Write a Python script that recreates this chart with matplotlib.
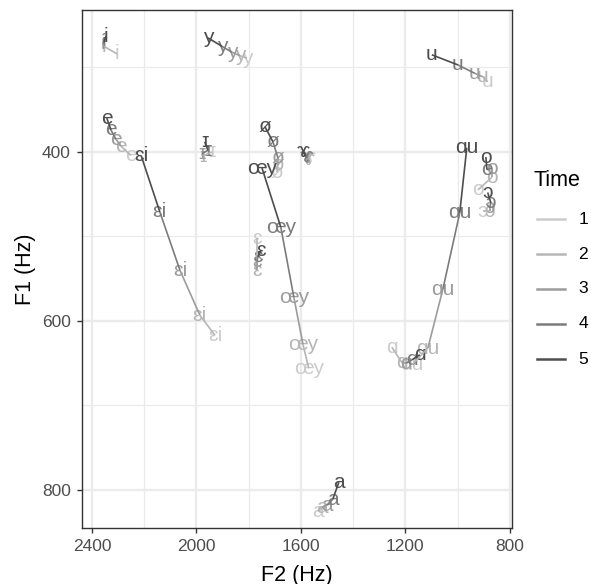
import matplotlib
matplotlib.use("Agg")
import matplotlib.pyplot as plt
from matplotlib.lines import Line2D
from matplotlib.ticker import FixedLocator

plt.rcParams['font.family'] = ['Liberation Sans', 'DejaVu Sans']

# vowel labels and formant tracks, one row per vowel, columns = time 1..5
vowels = ["i", "y", "e", "ɛi", "ɪ", "ø", "œy", "ɤ", "ɛ", "u", "ɑu", "ɑ", "o", "ɔ", "a"]
f2_hz = [
    [2304, 2354, 2358, 2354, 2346],
    [1807, 1834, 1864, 1902, 1956],
    [2251, 2289, 2308, 2327, 2343],
    [1929, 1987, 2063, 2140, 2212],
    [1941, 1975, 1979, 1956, 1968],
    [1692, 1688, 1688, 1707, 1738],
    [1570, 1592, 1627, 1677, 1749],
    [1570, 1573, 1577, 1581, 1592],
    [1769, 1769, 1769, 1765, 1753],
    [885, 904, 934, 999, 1099],
    [1175, 1114, 1057, 992, 965],
    [1252, 1214, 1198, 1175, 1145],
    [923, 869, 869, 888, 892],
    [904, 877, 877, 873, 885],
    [1535, 1520, 1501, 1478, 1455],
]
f1_hz = [
    [284, 275, 272, 270, 263],
    [289, 286, 282, 275, 265],
    [404, 393, 385, 374, 360],
    [617, 593, 540, 471, 404],
    [400, 405, 402, 398, 388],
    [424, 415, 407, 388, 370],
    [656, 628, 572, 489, 419],
    [407, 409, 407, 405, 400],
    [502, 540, 530, 524, 517],
    [317, 311, 307, 297, 285],
    [652, 632, 563, 472, 395],
    [631, 649, 650, 646, 640],
    [445, 430, 419, 421, 406],
    [470, 470, 466, 460, 448],
    [825, 821, 818, 811, 791],
]
times = ["1", "2", "3", "4", "5"]

# grey scale, light (time 1) to dark (time 5)
greys = ["#CCCCCC", "#B6B6B6", "#9C9C9C", "#7C7C7C", "#4D4D4D"]

W, H = 591, 584
fig = plt.figure(figsize=(W / 100, H / 100), dpi=100)
ax = fig.add_axes([82 / W, 1 - 528 / H, 430 / W, 518 / H])

# labels first, time 1 underneath
for t in range(len(times)):
    for v, lab in enumerate(vowels):
        ax.text(f2_hz[v][t], f1_hz[v][t], lab, color=greys[t], fontsize=15,
                ha='center', va='center', zorder=3)

# path segments coloured by the later time point
for v in range(len(vowels)):
    for t in range(len(times) - 1):
        ax.plot(f2_hz[v][t:t + 2], f1_hz[v][t:t + 2], color=greys[t + 1],
                lw=1.2, zorder=4, solid_capstyle='butt')

ax.set_xlim(2438, 792)
ax.set_ylim(845, 232)
ax.xaxis.set_major_locator(FixedLocator([2400, 2000, 1600, 1200, 800]))
ax.xaxis.set_minor_locator(FixedLocator([2200, 1800, 1400, 1000]))
ax.yaxis.set_major_locator(FixedLocator([400, 600, 800]))
ax.yaxis.set_minor_locator(FixedLocator([300, 500, 700]))
ax.grid(which='major', color='#EBEBEB', lw=1.7, zorder=0)
ax.grid(which='minor', color='#EBEBEB', lw=0.9, zorder=0)
ax.set_axisbelow(True)
ax.tick_params(which='major', length=3.5, width=1.0, color='#333333',
               labelcolor='#4D4D4D', labelsize=12.5, pad=4.5)
ax.tick_params(which='minor', length=0)
for s in ax.spines.values():
    s.set_color('#333333')
    s.set_linewidth(1.0)

ax.set_xlabel("F2 (Hz)", fontsize=15.5)
ax.set_ylabel("F1 (Hz)", fontsize=15.5)
ax.xaxis.label.set_va('center')
ax.yaxis.label.set_va('center')
ax.xaxis.set_label_coords(0.5, (528 - 575) / 518)
ax.yaxis.set_label_coords((25 - 82) / 430, 0.5)

# legend drawn in figure pixels to follow the reference layout
fig.text(533 / W, 1 - 180 / H, "Time", fontsize=15.5, ha='left', va='center')
for t, lab in enumerate(times):
    yk = 1 - (219 + 35 * t) / H
    fig.add_artist(Line2D([537 / W, 565 / W], [yk, yk], color=greys[t], lw=1.8))
    fig.text(583 / W, yk, lab, fontsize=12.5, ha='center', va='center')

fig.savefig("out.png", dpi=100)
